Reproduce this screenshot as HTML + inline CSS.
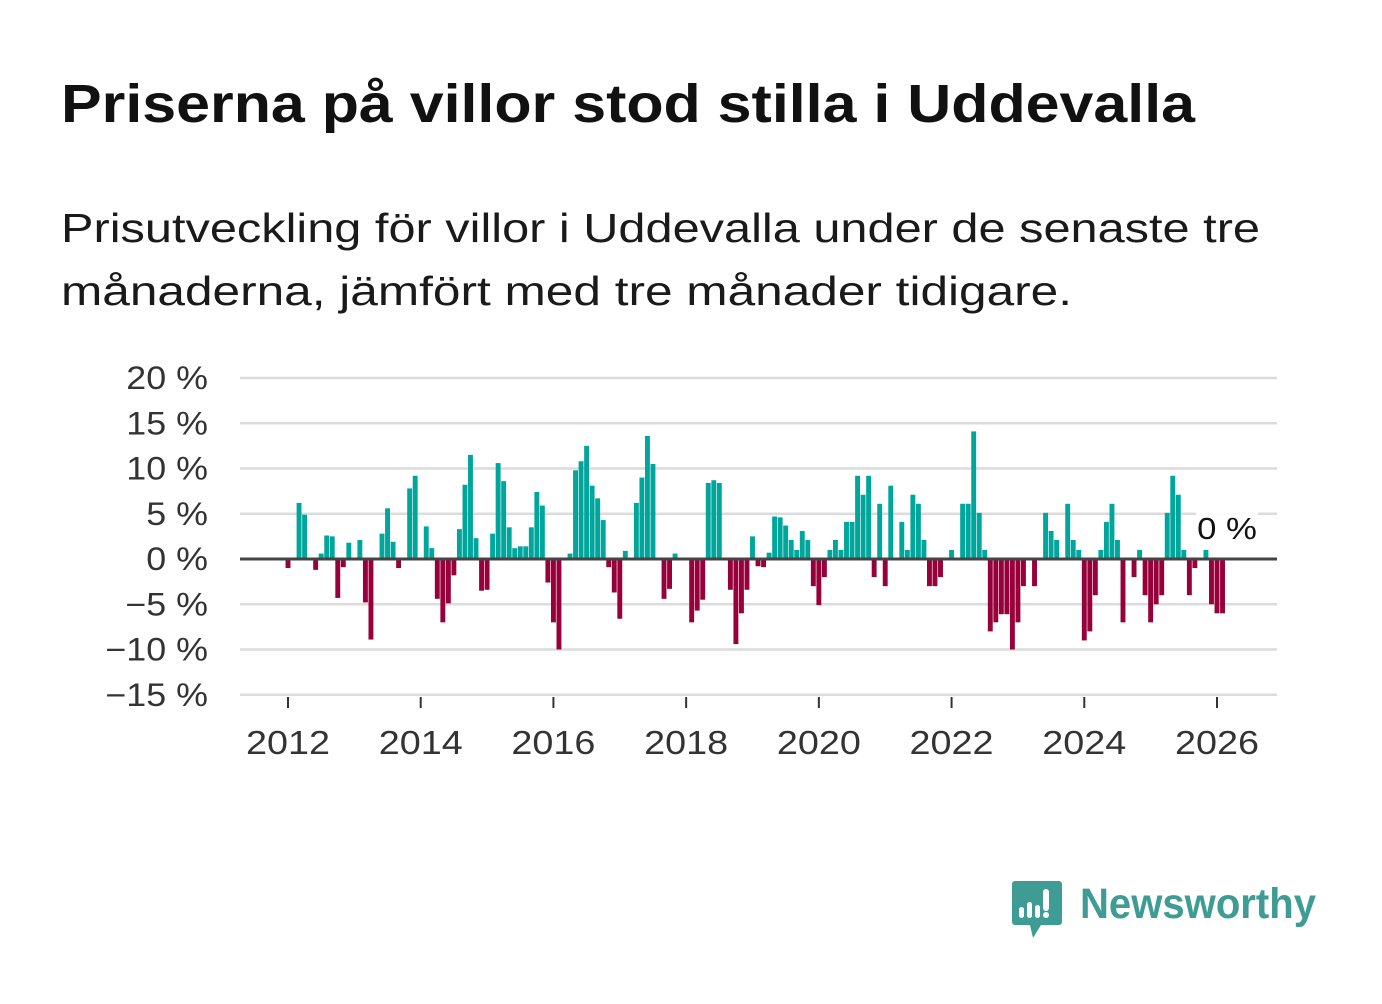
<!DOCTYPE html>
<html><head><meta charset="utf-8">
<style>
html,body{margin:0;padding:0;background:#fff;}
body{width:1382px;height:999px;overflow:hidden;position:relative;font-family:"Liberation Sans","DejaVu Sans",sans-serif;}
svg text{font-family:"Liberation Sans","DejaVu Sans",sans-serif;}
</style></head>
<body>
<svg id="chart" width="1382" height="999" viewBox="0 0 1382 999" xmlns="http://www.w3.org/2000/svg">
<text x="61" y="122" font-size="54" font-weight="bold" fill="#111" textLength="1134" lengthAdjust="spacingAndGlyphs">Priserna på villor stod stilla i Uddevalla</text>
<text x="61" y="242" font-size="41" fill="#1a1a1a" textLength="1199" lengthAdjust="spacingAndGlyphs">Prisutveckling för villor i Uddevalla under de senaste tre</text>
<text x="61" y="305" font-size="41" fill="#1a1a1a" textLength="1011" lengthAdjust="spacingAndGlyphs">månaderna, jämfört med tre månader tidigare.</text>
<g id="grid"></g>
<g id="yticks"></g>
<g id="bars"></g>
<g id="xticks"></g>
<g>
<rect x="1196" y="508" width="62" height="38" fill="#fff" opacity="0.9"/>
<text id="lastlbl" x="1227" y="539" font-size="31" text-anchor="middle" fill="#111">0 %</text>
</g>
<g>
<path d="M1015 881 h44 a3 3 0 0 1 3 3 v38 a3 3 0 0 1 -3 3 h-18 l-8 13 l-3 -13 h-15 a3 3 0 0 1 -3 -3 v-38 a3 3 0 0 1 3 -3z" fill="#3f9c95"/>
<rect x="1019" y="907" width="5" height="11" rx="2.5" fill="#fff"/>
<rect x="1027" y="902" width="5" height="16" rx="2.5" fill="#fff"/>
<rect x="1035" y="905" width="5" height="13" rx="2.5" fill="#fff"/>
<rect x="1043" y="889" width="6" height="22" rx="3" fill="#fff"/>
<circle cx="1046" cy="915" r="3" fill="#fff"/>
<text x="1080" y="918" font-size="43" font-weight="bold" fill="#3f9c95" textLength="236" lengthAdjust="spacingAndGlyphs">Newsworthy</text>
</g>
</svg>
<script>
const yTickValues = [20, 15, 10, 5, 0, -5, -10, -15];
const yTickLabels = ["20 %", "15 %", "10 %", "5 %", "0 %", "\u22125 %", "\u221210 %", "\u221215 %"];
const xTickYears = [2012, 2014, 2016, 2018, 2020, 2022, 2024, 2026];
const startYear = 2012;
const changeValues = [
-1,0,6.2,4.9,0,-1.2,0.6,2.6,2.5,-4.3,
-0.9,1.8,0,2.1,-4.8,-8.9,0,2.8,5.6,1.9,
-1,0,7.8,9.2,0,3.6,1.2,-4.4,-7,-4.9,
-1.8,3.3,8.2,11.5,2.3,-3.5,-3.4,2.8,10.6,8.6,
3.5,1.2,1.4,1.4,3.5,7.4,5.9,-2.6,-7,-10,
0,0.6,9.8,10.8,12.5,8.1,6.7,4.3,-0.9,-3.7,
-6.6,0.9,0,6.2,9.0,13.6,10.5,0,-4.4,-3.3,
0.6,0,0,-7,-5.7,-4.5,8.4,8.7,8.4,0,
-3.4,-9.4,-6,-3.4,2.5,-0.8,-0.9,0.7,4.7,4.6,
3.7,2.1,1.0,3.1,2.1,-3,-5.1,-2,1,2.1,
1,4.1,4.1,9.2,7.1,9.2,-2,6.1,-3,8.1,
0,4.1,1,7.1,6.1,2.1,-3,-3,-2,0,
1,0,6.1,6.1,14.1,5.1,1,-8,-7,-6.1,
-6.1,-10,-7,-3,0,-3,0,5.1,3.1,2.1,
0,6.1,2.1,1,-9,-8,-4,1,4.1,6.1,
2.1,-7,0,-2,1,-4,-7,-5,-4,5.1,
9.2,7.1,1,-4,-1,0,1,-5,-6,-6
];
const NS="http://www.w3.org/2000/svg";
const plotL=240, plotR=1277;
function y(v){ return 559 - v*9.05; }
function x(m){ return 288 + m*(929/168); }
function mk(tag, attrs, parent){ const e=document.createElementNS(NS,tag); for(const k in attrs) e.setAttribute(k,attrs[k]); parent.appendChild(e); return e; }
const grid=document.getElementById('grid'), yt=document.getElementById('yticks'), bars=document.getElementById('bars'), xt=document.getElementById('xticks');
yTickValues.forEach((v,i)=>{
  if(v!==0){
    const l=mk('line',{x1:plotL,x2:plotR,y1:y(v),y2:y(v),stroke:'#dcdcdc','stroke-width':2.5},grid);
    
    
  }
  const t=mk('text',{x:208,y:y(v)+11,'font-size':32,'text-anchor':'end',fill:'#333'},yt);
  t.textContent=yTickLabels[i];
  
  
  const w=t.getComputedTextLength();
  if(w>0){ t.setAttribute('textLength', w*1.12); t.setAttribute('lengthAdjust','spacingAndGlyphs'); }
});
changeValues.forEach((v,m)=>{
  if(v===0) return;
  const top=v>0?y(v):y(0), h=Math.abs(y(v)-y(0));
  const r=mk('rect',{x:x(m)-2.45,y:top,width:4.9,height:h,fill:v>0?'#00a59b':'#97003a'},bars);
  
  
});
const zl=mk('line',{x1:plotL,x2:plotR,y1:y(0),y2:y(0),stroke:'#444','stroke-width':3},bars);


xTickYears.forEach(yr=>{
  const m=(yr-startYear)*12;
  const tk=mk('line',{x1:x(m),x2:x(m),y1:697,y2:708,stroke:'#333','stroke-width':2},xt);
  
  
  const t=mk('text',{x:x(m),y:754,'font-size':33,'text-anchor':'middle',fill:'#333',textLength:84,lengthAdjust:'spacingAndGlyphs'},xt);
  t.textContent=String(yr);
  
  
});
const ll=document.getElementById('lastlbl'); const lw=ll.getComputedTextLength();
if(lw>0){ ll.setAttribute('textLength', lw*1.12); ll.setAttribute('lengthAdjust','spacingAndGlyphs'); }
</script>
</body></html>
